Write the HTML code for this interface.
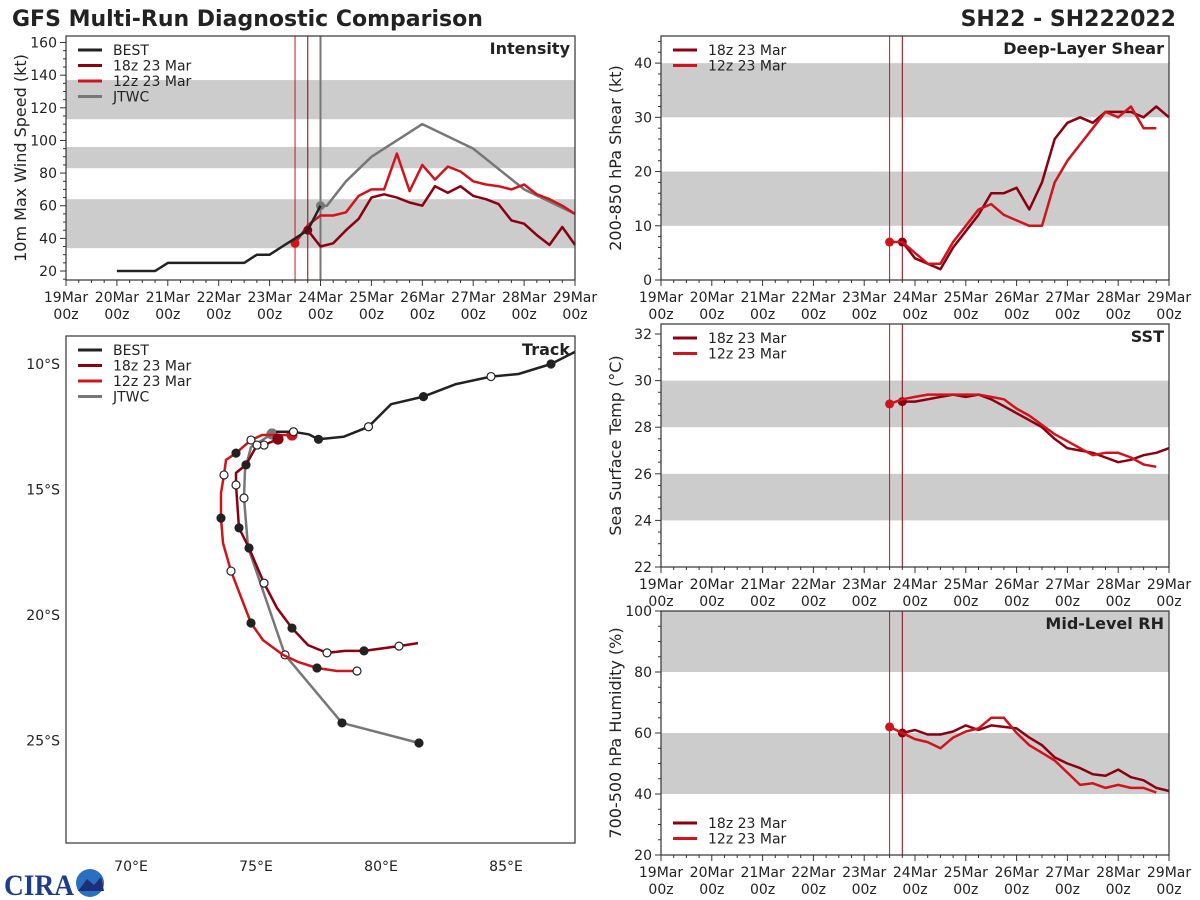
<!DOCTYPE html>
<html><head><meta charset="utf-8"><style>
html,body{margin:0;padding:0;background:#fff;}
svg{display:block;font-family:"DejaVu Sans","Liberation Sans",sans-serif;}
</style></head><body>
<svg id="c" width="1200" height="900" viewBox="0 0 1200 900" xmlns="http://www.w3.org/2000/svg">
<text x="12" y="26" font-size="22" font-weight="bold" fill="#222">GFS Multi-Run Diagnostic Comparison</text>
<text x="1176" y="26" font-size="22" font-weight="bold" fill="#222" text-anchor="end">SH22 - SH222022</text>
<g>
<text x="4" y="895" font-size="30" font-weight="bold" fill="#1e3c8c" font-family="Liberation Serif,serif" textLength="70" lengthAdjust="spacingAndGlyphs">CIRA</text>
<circle cx="90" cy="883" r="14" fill="#2c6fc0"/>
<path d="M78 891 L87 879 L94 885 L101 877 L104 891 Z" fill="#1c2f7a"/>
</g>
</svg>
<script>
// ---------- DATA ----------
const timeTickLabels=["19Mar","20Mar","21Mar","22Mar","23Mar","24Mar","25Mar","26Mar","27Mar","28Mar","29Mar"];
// hours since 19Mar 00z
const bestHours=[24,42,48,60,66,72,78,84,90,96,102,108,114,120];
const bestVmax=[20,20,25,25,25,25,25,25,30,30,35,40,45,60];
const run18Hours=[114,120,126,132,138,144,150,156,162,168,174,180,186,192,198,204,210,216,222,228,234,240];
const run18Vmax=[45,35,37,45,52,65,67,65,62,60,72,68,72,66,64,61,51,49,42,36,47,36];
const run12Hours=[108,114,120,126,132,138,144,150,156,162,168,174,180,186,192,198,204,210,216,222,228,234,240];
const run12Vmax=[37,48,54,54,56,66,70,70,92,69,85,76,84,81,75,73,72,70,73,67,64,60,55];
const jtwcHours=[120,123,132,144,168,192,216,240];
const jtwcVmax=[60,60,75,90,110,95,70,55];
const run18Shear=[7,4,3,2,6,9,12,16,16,17,13,18,26,29,30,29,31,31,31,30,32,30];
const run12Shear=[7,7,5,3,3,7,10,13,14,12,11,10,10,18,22,25,28,31,30,32,28,28];
const run18Sst=[29.1,29.1,29.2,29.3,29.4,29.3,29.4,29.2,28.9,28.6,28.3,28.0,27.5,27.1,27.0,26.9,26.7,26.5,26.6,26.8,26.9,27.1];
const run12Sst=[29.0,29.2,29.3,29.4,29.4,29.4,29.4,29.4,29.3,29.2,28.8,28.5,28.1,27.7,27.4,27.1,26.8,26.9,26.9,26.7,26.4,26.3];
const run18Rh=[60,61,59.5,59.5,60.5,62.5,61,62.5,62,61.5,58.5,56,52,50,48.5,46.5,46,48,45.5,44.5,42,41];
const run12Rh=[62,60,58,57,55,58.5,60.5,61.5,65,65,60,56,53.5,51,47,43,43.5,42,43,42,42,40.5];
// tracks: [lon E, lat S]
const bestLon=[87.8,86.8,85.5,84.4,83.0,81.7,80.4,79.5,78.5,77.5,77.1,76.5,75.8];
const bestLat=[9.5,10.0,10.4,10.5,10.8,11.3,11.6,12.5,12.9,13.0,12.8,12.7,12.7];
const bestMk=["","f","","o","","f","","o","","f","","o",""];
const trk18Lon=[75.88,75.32,75.04,74.6,74.2,74.2,74.32,74.72,75.32,75.84,76.44,77.08,77.84,78.56,79.32,80.72,81.48];
const trk18Lat=[12.99,13.23,13.23,14.02,14.34,14.82,16.53,17.33,18.73,19.72,20.52,21.2,21.51,21.43,21.43,21.24,21.12];
const trk18Mk=["s","o","o","f","","o","f","f","o","","f","","o","","f","o",""];
const trk12Lon=[76.44,75.24,74.8,74.2,73.8,73.72,73.6,73.6,73.68,74.0,74.8,75.28,76.08,76.68,77.44,78.24,79.04];
const trk12Lat=[12.83,12.83,13.03,13.55,13.82,14.42,15.14,16.14,17.13,18.25,20.32,21.0,21.59,21.87,22.11,22.23,22.23];
const trk12Mk=["s","","o","f","","o","","f","","o","f","","","","f","","o"];
const jtwcLon=[75.64,74.8,74.56,74.52,74.68,76.16,78.44,81.52];
const jtwcLat=[12.79,13.31,14.22,15.34,17.29,21.59,24.3,25.1];
const jtwcMk=["s","","","o","","o","f","f"];

// ---------- DRAW ----------
const svg=document.getElementById('c');
const NS='http://www.w3.org/2000/svg';
function el(tag,at,parent){const e=document.createElementNS(NS,tag);for(const k in at)e.setAttribute(k,at[k]);(parent||svg).appendChild(e);return e;}
const C18='#8b0010',C12='#d0141c',CB='#222',CJ='#777';

function timePanel(name,x0,x1,y0,y1,vmin,vmax,major,minor,bands,ylabel,title){
  const g=el('g',{});
  
  
  const X=h=>x0+(h/240)*(x1-x0);
  const Y=v=>y1-(v-vmin)/(vmax-vmin)*(y1-y0);
  bands.forEach(b=>{const r=el('rect',{x:x0,y:Y(Math.min(b[1],vmax)),width:x1-x0,height:Y(b[0])-Y(Math.min(b[1],vmax)),fill:'#cccccc'},g);
    });
  for(let v=Math.ceil(vmin/minor)*minor;v<=vmax+1e-9;v+=minor){
    const isMaj=Math.abs(v/major-Math.round(v/major))<1e-6;
    el('line',{x1:x0,x2:x0-(isMaj?6:3),y1:Y(v),y2:Y(v),stroke:'#333','stroke-width':1},g);
    if(isMaj){const t=el('text',{x:x0-9,y:Y(v)+5,'font-size':14,'text-anchor':'end',fill:'#222'},g);t.textContent=String(v);
      }
  }
  for(let h=0;h<=240;h+=6){const maj=h%24==0;
    el('line',{x1:X(h),x2:X(h),y1:y1,y2:y1+(maj?6:3),stroke:'#333','stroke-width':1},g);}
  timeTickLabels.forEach((s,i)=>{
    const t=el('text',{x:X(i*24),y:y1+22,'font-size':14,'text-anchor':'middle',fill:'#222'},g);t.textContent=s;
    
    const t2=el('text',{x:X(i*24),y:y1+39,'font-size':14,'text-anchor':'middle',fill:'#222'},g);t2.textContent='00z';
    });
  const yl=el('text',{transform:`translate(${x0-40},${(y0+y1)/2}) rotate(-90)`,'font-size':16,'text-anchor':'middle',fill:'#222'},g);
  yl.textContent=ylabel;
  const tt=el('text',{x:x1-5,y:y0+18,'font-size':16,'font-weight':'bold','text-anchor':'end',fill:'#222'},g);
  tt.textContent=title;
  return {g,X,Y,x0,x1,y0,y1};
}
function vline(P,h,col,w){el('line',{x1:P.X(h),x2:P.X(h),y1:P.y0,y2:P.y1,stroke:col,'stroke-width':w},P.g);}
function series(P,hours,vals,col,w,name,dot){
  const d=hours.map((h,i)=>(i?'L':'M')+P.X(h).toFixed(1)+' '+P.Y(vals[i]).toFixed(1)).join(' ');
  const p=el('path',{d,fill:'none',stroke:col,'stroke-width':w,'stroke-linejoin':'round'},P.g);
  
  if(dot){const c=el('circle',{cx:P.X(hours[0]),cy:P.Y(vals[0]),r:4.5,fill:col},P.g);
    }
}
function frame(P){el('rect',{x:P.x0,y:P.y0,width:P.x1-P.x0,height:P.y1-P.y0,fill:'none',stroke:'#333','stroke-width':1.2},P.g);}
function legend(P,x,y,items){
  const lg=el('g',{},P.g);
  items.forEach((it,i)=>{const yy=y+i*15.5;
    el('line',{x1:x,x2:x+24,y1:yy,y2:yy,stroke:it[1],'stroke-width':3},lg);
    const t=el('text',{x:x+35,y:yy+5,'font-size':14,fill:'#222'},lg);t.textContent=it[0];
    });
}
const L4=[['BEST',CB],['18z 23 Mar',C18],['12z 23 Mar',C12],['JTWC',CJ]];
const L2=[['18z 23 Mar',C18],['12z 23 Mar',C12]];

// Intensity
let P=timePanel('intensity',66,575,36,280,14.5,164,20,5,[[34,64],[83,96],[113,137]],'10m Max Wind Speed (kt)','Intensity');
vline(P,108,C12,1);vline(P,114,C18,1);vline(P,120,CJ,2);
series(P,jtwcHours,jtwcVmax,CJ,2.5,'jtwc-intensity',true);
series(P,run12Hours,run12Vmax,C12,2.5,'run12z-intensity',true);
series(P,run18Hours,run18Vmax,C18,2.5,'run18z-intensity',true);
series(P,bestHours,bestVmax,CB,2.5,'best-intensity',false);
frame(P);legend(P,78,50,L4);

// Shear
P=timePanel('shear',661,1169,36,280,0,45,10,2,[[10,20],[30,40]],'200-850 hPa Shear (kt)','Deep-Layer Shear');
vline(P,108,C12,1);vline(P,114,C18,1);
series(P,run18Hours,run18Shear,C18,2.5,'run18z-shear',true);
series(P,run12Hours.slice(0,run12Shear.length),run12Shear,C12,2.5,'run12z-shear',true);
frame(P);legend(P,673,50,L2);

// SST
P=timePanel('sst',661,1169,324,567,22,32.43,2,0.5,[[24,26],[28,30]],'Sea Surface Temp (°C)','SST');
vline(P,108,C12,1);vline(P,114,C18,1);
series(P,run18Hours,run18Sst,C18,2.5,'run18z-sst',true);
series(P,run12Hours.slice(0,run12Sst.length),run12Sst,C12,2.5,'run12z-sst',true);
frame(P);legend(P,673,338,L2);

// RH
P=timePanel('rh',661,1169,611,855,20,100,20,5,[[40,60],[80,100]],'700-500 hPa Humidity (%)','Mid-Level RH');
vline(P,108,C12,1);vline(P,114,C18,1);
series(P,run18Hours,run18Rh,C18,2.5,'run18z-rh',true);
series(P,run12Hours.slice(0,run12Rh.length),run12Rh,C12,2.5,'run12z-rh',true);
frame(P);legend(P,673,823,L2);

// Track
const tg=el('g',{});


const TX=lon=>131+(lon-70)*25, TY=lat=>364+(lat-10)*25.1;
[10,15,20,25].forEach(l=>{const t=el('text',{x:60,y:TY(l)+5,'font-size':14,'text-anchor':'end',fill:'#222'},tg);t.textContent=l+'°S';
  });
[70,75,80,85].forEach(l=>{const t=el('text',{x:TX(l),y:871,'font-size':14,'text-anchor':'middle',fill:'#222'},tg);t.textContent=l+'°E';
  });
const clip=el('clipPath',{id:'tc'},tg);el('rect',{x:66,y:336,width:509,height:507},clip);
const tp=el('g',{'clip-path':'url(#tc)'},tg);
function track(lon,lat,mk,col,name){
  const d=lon.map((v,i)=>(i?'L':'M')+TX(v).toFixed(1)+' '+TY(lat[i]).toFixed(1)).join(' ');
  const p=el('path',{d,fill:'none',stroke:col,'stroke-width':2.5,'stroke-linejoin':'round'},tp);
  
  mk.forEach((m,i)=>{if(!m)return;
    const c=el('circle',{cx:TX(lon[i]),cy:TY(lat[i]),r:m=='s'?5:4,fill:m=='o'?'#fff':(m=='s'?col:'#222'),stroke:m=='s'?col:'#222','stroke-width':1.2},tp);
    });
}
track(jtwcLon,jtwcLat,jtwcMk,CJ,'jtwc-track');
track(trk12Lon,trk12Lat,trk12Mk,C12,'run12z-track');
track(trk18Lon,trk18Lat,trk18Mk,C18,'run18z-track');
track(bestLon,bestLat,bestMk,CB,'best-track');
el('rect',{x:66,y:336,width:509,height:507,fill:'none',stroke:'#333','stroke-width':1.2},tg);
const ttl=el('text',{x:570,y:355,'font-size':16,'font-weight':'bold','text-anchor':'end',fill:'#222'},tg);ttl.textContent='Track';

legend({g:tg},78,350,L4);
</script>
</body></html>
